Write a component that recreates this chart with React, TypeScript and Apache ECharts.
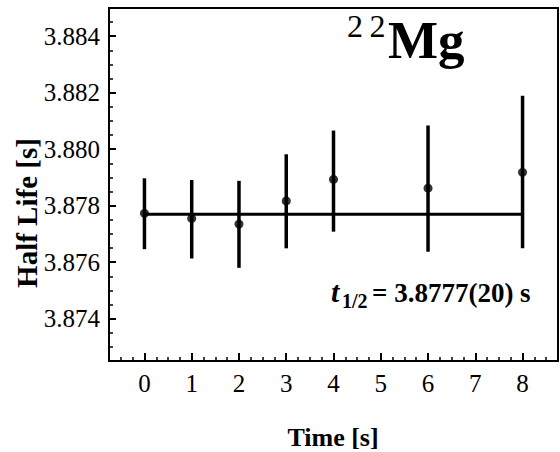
import React, { useEffect, useRef } from "react";
import * as echarts from "echarts";

const SERIF = "'Liberation Serif', 'Times New Roman', 'DejaVu Serif', serif";

// Data
const times = [0, 1, 2, 3, 4, 6, 8];
const halfLife = [3.87773, 3.87755, 3.87735, 3.87817, 3.87893, 3.87862, 3.87918];
const errLow = [3.87646, 3.87613, 3.8758, 3.87649, 3.87708, 3.87637, 3.87649];
const errHigh = [3.87897, 3.87891, 3.87888, 3.87982, 3.88066, 3.88084, 3.88189];
const fitValue = 3.8777;

// Axis ticks
const xTickLabels = [0, 1, 2, 3, 4, 5, 6, 7, 8];
const yTickLabels = [3.874, 3.876, 3.878, 3.88, 3.882, 3.884];
const xMin = -0.75;
const xMax = 8.75;
const yMin = 3.8725;
const yMax = 3.885;

const xMinorTicks: number[] = [];
for (let i = 0; i <= 38; i++) {
  const v = +(xMin + i * 0.25).toFixed(2);
  if (!Number.isInteger(v)) xMinorTicks.push(v);
}
const yMinorTicks: number[] = [];
for (let i = 0; i <= 25; i++) {
  const v = +(yMin + i * 0.0005).toFixed(4);
  if (!yTickLabels.some((t) => Math.abs(t - v) < 1e-7)) yMinorTicks.push(v);
}

export default function App() {
  const ref = useRef<HTMLDivElement>(null);

  useEffect(() => {
    if (!ref.current) return;
    const chart = echarts.init(ref.current, undefined, { renderer: "svg" });
    const black = "#000";
    const option: any = {
      animation: false,
      backgroundColor: "#fff",
      textStyle: { fontFamily: SERIF, color: black },
      grid: {
        left: 109,
        right: 2,
        top: 8,
        bottom: 91,
        show: true,
        borderColor: black,
        borderWidth: 2,
        backgroundColor: "transparent",
      },
      xAxis: [
        {
          type: "value",
          min: xMin,
          max: xMax,
          position: "bottom",
          axisLine: { show: true, onZero: false, lineStyle: { color: black, width: 2 } },
          axisTick: {
            show: true,
            inside: true,
            length: 8,
            customValues: xTickLabels,
            lineStyle: { color: black, width: 2 },
          },
          axisLabel: {
            customValues: xTickLabels,
            fontSize: 25,
            fontFamily: SERIF,
            color: black,
            margin: 10,
          },
          splitLine: { show: false },
        },
        {
          type: "value",
          min: xMin,
          max: xMax,
          position: "bottom",
          axisLine: { show: false, onZero: false },
          axisTick: {
            show: true,
            inside: true,
            length: 4,
            customValues: xMinorTicks,
            lineStyle: { color: black, width: 1.5 },
          },
          axisLabel: { show: false },
          splitLine: { show: false },
        },
      ],
      yAxis: [
        {
          type: "value",
          min: yMin,
          max: yMax,
          position: "left",
          axisLine: { show: true, onZero: false, lineStyle: { color: black, width: 2 } },
          axisTick: {
            show: true,
            inside: true,
            length: 7,
            customValues: yTickLabels,
            lineStyle: { color: black, width: 2 },
          },
          axisLabel: {
            customValues: yTickLabels,
            formatter: (v: number) => v.toFixed(3),
            fontSize: 25,
            fontFamily: SERIF,
            color: black,
            margin: 9,
          },
          splitLine: { show: false },
        },
        {
          type: "value",
          min: yMin,
          max: yMax,
          position: "left",
          axisLine: { show: false, onZero: false },
          axisTick: {
            show: true,
            inside: true,
            length: 4,
            customValues: yMinorTicks,
            lineStyle: { color: black, width: 1.5 },
          },
          axisLabel: { show: false },
          splitLine: { show: false },
        },
      ],
      series: [
        {
          type: "custom",
          xAxisIndex: 0,
          yAxisIndex: 0,
          data: times.map((t, i) => [t, errLow[i], errHigh[i]]),
          encode: { x: 0, y: [1, 2] },
          renderItem: (params: any, api: any) => {
            const x = api.value(0);
            const p1 = api.coord([x, api.value(1)]);
            const p2 = api.coord([x, api.value(2)]);
            return {
              type: "line",
              shape: { x1: p1[0], y1: p1[1], x2: p2[0], y2: p2[1] },
              style: { stroke: black, lineWidth: 3.5 },
            };
          },
          z: 2,
        },
        {
          type: "line",
          xAxisIndex: 0,
          yAxisIndex: 0,
          data: [
            [times[0], fitValue],
            [times[times.length - 1], fitValue],
          ],
          symbol: "none",
          lineStyle: { color: black, width: 3 },
          z: 3,
        },
        {
          type: "scatter",
          xAxisIndex: 0,
          yAxisIndex: 0,
          data: times.map((t, i) => [t, halfLife[i]]),
          symbol: "circle",
          symbolSize: 9,
          itemStyle: { color: black },
          z: 4,
        },
      ],
      graphic: [
        {
          type: "text",
          x: 27,
          y: 213,
          rotation: Math.PI / 2,
          style: {
            text: "Half Life [s]",
            font: `bold 29px ${SERIF}`,
            fill: black,
            align: "center",
            verticalAlign: "middle",
            textAlign: "center",
            textVerticalAlign: "middle",
          },
        },
        {
          type: "text",
          x: 333,
          y: 437,
          style: {
            text: "Time [s]",
            font: `bold 26px ${SERIF}`,
            fill: black,
            align: "center",
            verticalAlign: "middle",
            textAlign: "center",
            textVerticalAlign: "middle",
          },
        },
        {
          type: "text",
          left: 347,
          top: 10,
          style: { text: "2\u20092", font: `32px ${SERIF}`, fill: black },
        },
        {
          type: "text",
          left: 388,
          top: 13,
          style: { text: "Mg", font: `bold 53px ${SERIF}`, fill: black },
        },
        {
          type: "text",
          left: 331,
          top: 276,
          style: { text: "t", font: `italic bold 30px ${SERIF}`, fill: black },
        },
        {
          type: "text",
          left: 342,
          top: 291,
          style: { text: "1/2", font: `bold 20px ${SERIF}`, fill: black },
        },
        {
          type: "text",
          left: 372,
          top: 279,
          style: { text: "= 3.8777(20) s", font: `bold 27px ${SERIF}`, fill: black },
        },
      ],
    };
    chart.setOption(option);
    return () => chart.dispose();
  }, []);

  return (
    <div
      ref={ref}
      style={{ position: "fixed", left: 0, top: 0, width: 560, height: 452, background: "#fff" }}
    />
  );
}
